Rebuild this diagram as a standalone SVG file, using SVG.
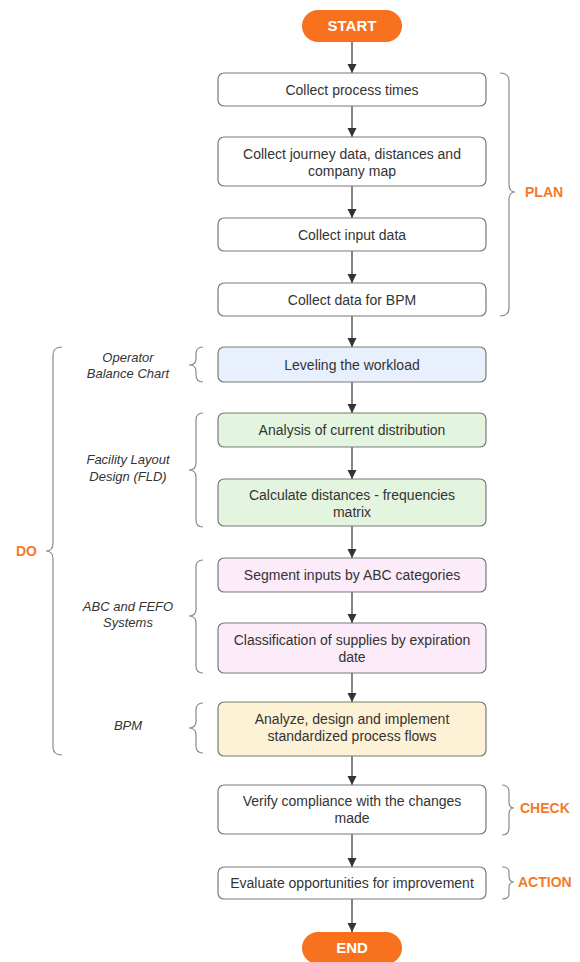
<svg xmlns="http://www.w3.org/2000/svg" width="580" height="962" viewBox="0 0 580 962">
<defs>
<marker id="ah" markerWidth="9" markerHeight="12" refX="9" refY="6" orient="auto" markerUnits="userSpaceOnUse">
<path d="M0,1.5 L9,6 L0,10.5 Z" fill="#333"/>
</marker>
<style>
.bx{stroke:#7a7a7a;stroke-width:1.2;fill:#fff}
.blue{fill:#e8f0fd}
.green{fill:#e3f5df}
.pink{fill:#fcebf9}
.yel{fill:#fdf1d6}
.t{font-family:"Liberation Sans",Arial,sans-serif;font-size:14px;fill:#333;text-anchor:middle}
.it{font-family:"Liberation Sans",Arial,sans-serif;font-size:13px;font-style:italic;fill:#333;text-anchor:middle}
.ph{font-family:"Liberation Sans",Arial,sans-serif;font-size:14px;font-weight:bold;fill:#f47a2a}
.pill{fill:#f7711f}
.pt{font-family:"Liberation Sans",Arial,sans-serif;font-size:15px;font-weight:bold;fill:#fff;text-anchor:middle}
.br{fill:none;stroke:#8a8a8a;stroke-width:1.2}
.cn{stroke:#333;stroke-width:1.2;fill:none}
</style>
</defs>
<rect width="580" height="962" fill="#fff"/>

<g id="connectors">
<line class="cn" x1="352" y1="42" x2="352" y2="73" marker-end="url(#ah)"/>
<line class="cn" x1="352" y1="106" x2="352" y2="137" marker-end="url(#ah)"/>
<line class="cn" x1="352" y1="186" x2="352" y2="218" marker-end="url(#ah)"/>
<line class="cn" x1="352" y1="251" x2="352" y2="283" marker-end="url(#ah)"/>
<line class="cn" x1="352" y1="316" x2="352" y2="347" marker-end="url(#ah)"/>
<line class="cn" x1="352" y1="382" x2="352" y2="413" marker-end="url(#ah)"/>
<line class="cn" x1="352" y1="447" x2="352" y2="479" marker-end="url(#ah)"/>
<line class="cn" x1="352" y1="526" x2="352" y2="558" marker-end="url(#ah)"/>
<line class="cn" x1="352" y1="592" x2="352" y2="623" marker-end="url(#ah)"/>
<line class="cn" x1="352" y1="673" x2="352" y2="702" marker-end="url(#ah)"/>
<line class="cn" x1="352" y1="756" x2="352" y2="785" marker-end="url(#ah)"/>
<line class="cn" x1="352" y1="834" x2="352" y2="867" marker-end="url(#ah)"/>
<line class="cn" x1="352" y1="899" x2="352" y2="932" marker-end="url(#ah)"/>
</g>

<g id="start">
<rect class="pill" x="302" y="10" width="100" height="32" rx="16"/>
<text class="pt" x="352" y="31">START</text>
</g>

<g id="n1">
<rect class="bx" x="218" y="73" width="268" height="33" rx="6"/>
<text class="t" x="352" y="94.5">Collect process times</text>
</g>
<g id="n2">
<rect class="bx" x="218" y="137" width="268" height="49" rx="6"/>
<text class="t" x="352" y="159">Collect journey data, distances and</text>
<text class="t" x="352" y="176">company map</text>
</g>
<g id="n3">
<rect class="bx" x="218" y="218" width="268" height="33" rx="6"/>
<text class="t" x="352" y="239.5">Collect input data</text>
</g>
<g id="n4">
<rect class="bx" x="218" y="283" width="268" height="33" rx="6"/>
<text class="t" x="352" y="304.5">Collect data for BPM</text>
</g>
<g id="n5">
<rect class="bx blue" x="218" y="347" width="268" height="35" rx="6"/>
<text class="t" x="352" y="369.5">Leveling the workload</text>
</g>
<g id="n6">
<rect class="bx green" x="218" y="413" width="268" height="34" rx="6"/>
<text class="t" x="352" y="435">Analysis of current distribution</text>
</g>
<g id="n7">
<rect class="bx green" x="218" y="479" width="268" height="47" rx="6"/>
<text class="t" x="352" y="500">Calculate distances - frequencies</text>
<text class="t" x="352" y="517">matrix</text>
</g>
<g id="n8">
<rect class="bx pink" x="218" y="558" width="268" height="34" rx="6"/>
<text class="t" x="352" y="580">Segment inputs by ABC categories</text>
</g>
<g id="n9">
<rect class="bx pink" x="218" y="623" width="268" height="50" rx="6"/>
<text class="t" x="352" y="645">Classification of supplies by expiration</text>
<text class="t" x="352" y="662">date</text>
</g>
<g id="n10">
<rect class="bx yel" x="218" y="702" width="268" height="54" rx="6"/>
<text class="t" x="352" y="724">Analyze, design and implement</text>
<text class="t" x="352" y="741">standardized process flows</text>
</g>
<g id="n11">
<rect class="bx" x="218" y="785" width="268" height="49" rx="6"/>
<text class="t" x="352" y="806">Verify compliance with the changes</text>
<text class="t" x="352" y="823">made</text>
</g>
<g id="n12">
<rect class="bx" x="218" y="867" width="268" height="32" rx="6"/>
<text class="t" x="352" y="888">Evaluate opportunities for improvement</text>
</g>
<g id="end">
<rect class="pill" x="302" y="932" width="100" height="32" rx="16"/>
<text class="pt" x="352" y="953">END</text>
</g>

<g id="plan">
<path class="br" d="M500,73 Q509,73 509,81 L509,184 Q509,192 515,192 Q509,192 509,200 L509,308 Q509,316 500,316"/>
<text class="ph" x="525" y="197">PLAN</text>
</g>
<g id="do">
<path class="br" d="M62,347 Q53,347 53,355 L53,543 Q53,551 46,551 Q53,551 53,559 L53,747 Q53,755 62,755"/>
<text class="ph" x="16" y="556">DO</text>
</g>
<g id="check">
<path class="br" d="M502,785 Q509,785 509,792 L509,802 Q509,808 514,808 Q509,808 509,814 L509,828 Q509,835 502,835"/>
<text class="ph" x="520" y="813">CHECK</text>
</g>
<g id="action">
<path class="br" d="M502,867 Q509,867 509,872 L509,876 Q509,882 514,882 Q509,882 509,888 L509,894 Q509,899 502,899"/>
<text class="ph" x="518" y="887">ACTION</text>
</g>

<g id="obc">
<path class="br" d="M203,347 Q196,347 196,354 L196,359 Q196,365 189,365 Q196,365 196,371 L196,375 Q196,382 203,382"/>
<text class="it" x="128" y="362">Operator</text>
<text class="it" x="128" y="378">Balance Chart</text>
</g>
<g id="fld">
<path class="br" d="M203,413 Q196,413 196,420 L196,463 Q196,470 189,470 Q196,470 196,477 L196,520 Q196,527 203,527"/>
<text class="it" x="128" y="464">Facility Layout</text>
<text class="it" x="128" y="481">Design (FLD)</text>
</g>
<g id="abc">
<path class="br" d="M203,560 Q196,560 196,567 L196,609 Q196,616 189,616 Q196,616 196,623 L196,666 Q196,673 203,673"/>
<text class="it" x="128" y="611">ABC and FEFO</text>
<text class="it" x="128" y="627">Systems</text>
</g>
<g id="bpm">
<path class="br" d="M203,703 Q196,703 196,710 L196,721 Q196,728 189,728 Q196,728 196,735 L196,746 Q196,753 203,753"/>
<text class="it" x="128" y="730">BPM</text>
</g>
</svg>
